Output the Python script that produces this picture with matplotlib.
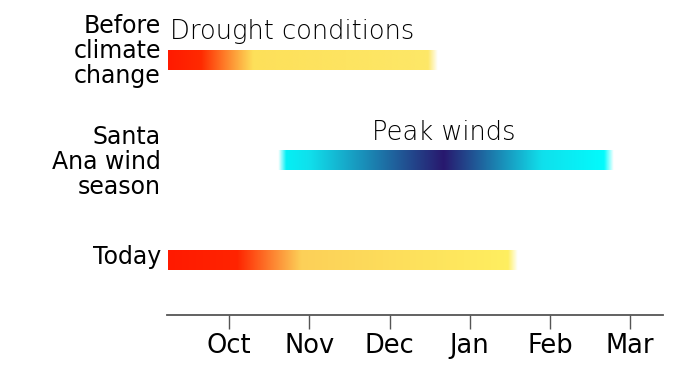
import matplotlib.pyplot as plt
import numpy as np
from matplotlib.colors import to_rgb

# months as numbers: Oct = 0, Nov = 1, ...
months = ["Oct", "Nov", "Dec", "Jan", "Feb", "Mar"]
month_pos = [0, 1, 2, 3, 4, 5]

rows = ["Before\nclimate\nchange", "Santa\nAna wind\nseason", "Today"]
row_y = [2, 1, 0]
bar_start = [-0.76, 0.61, -0.76]
bar_end = [2.6, 4.79, 3.6]
notes = ["Drought conditions", "Peak winds", ""]

# colour stops along each bar (month position, colour)
stops = [
    [(-0.76, "#ff1a00"), (-0.35, "#ff2a00"), (0.3, "#fde05a"), (2.6, "#fde868")],
    [(0.61, "#00f5f8"), (1.0, "#10e0ec"), (2.67, "#28186e"), (3.9, "#10e0ec"), (4.79, "#00ffff")],
    [(-0.76, "#ff1a00"), (0.1, "#ff2400"), (0.9, "#fcd058"), (3.6, "#fff060")],
]

plt.rcParams['font.family'] = ['DejaVu Sans']

fig = plt.figure(figsize=(6.8, 3.65), dpi=100)
ax = fig.add_axes([0.2456, 0.137, 0.975 - 0.2456, 0.863])
ax.set_xlim(-0.775, 5.41)
ax.set_ylim(-0.55, 2.6)

label_off = [0.09, -0.02, 0.03]
h = 0.2
for i in range(3):
    x = np.linspace(bar_start[i], bar_end[i], 600)
    sx = [s[0] for s in stops[i]]
    cols = np.array([to_rgb(s[1]) for s in stops[i]])
    rgba = np.ones((1, len(x), 4))
    for c in range(3):
        rgba[0, :, c] = np.interp(x, sx, cols[:, c])
    # soft fade at the right end (and left end for wind season)
    fade = np.clip((bar_end[i] - x) / 0.12, 0, 1)
    if i == 1:
        fade = fade * np.clip((x - bar_start[i]) / 0.1, 0, 1)
    rgba[0, :, 3] = fade
    ax.imshow(rgba, extent=[bar_start[i], bar_end[i], row_y[i] - h / 2, row_y[i] + h / 2],
              aspect="auto", interpolation="bilinear", zorder=2)
    ax.text(-0.85, row_y[i] + label_off[i], rows[i], ha="right", va="center", fontsize=17,
            linespacing=1.05)

ax.text(-0.74, 2.28, notes[0], ha="left", va="center", fontsize=18.5, fontweight="light",
        color="black")
ax.text(2.67, 1.27, notes[1], ha="center", va="center", fontsize=18.5, fontweight="light",
        color="black")

for s in ["top", "right", "left"]:
    ax.spines[s].set_visible(False)
ax.spines["bottom"].set_color("#555555")
ax.spines["bottom"].set_linewidth(1.3)
ax.set_yticks([])
ax.set_xticks(month_pos)
ax.set_xticklabels(months, fontsize=18.5)
ax.tick_params(axis="x", length=10, width=1, color="#555555", pad=3)

fig.savefig("out.png")
